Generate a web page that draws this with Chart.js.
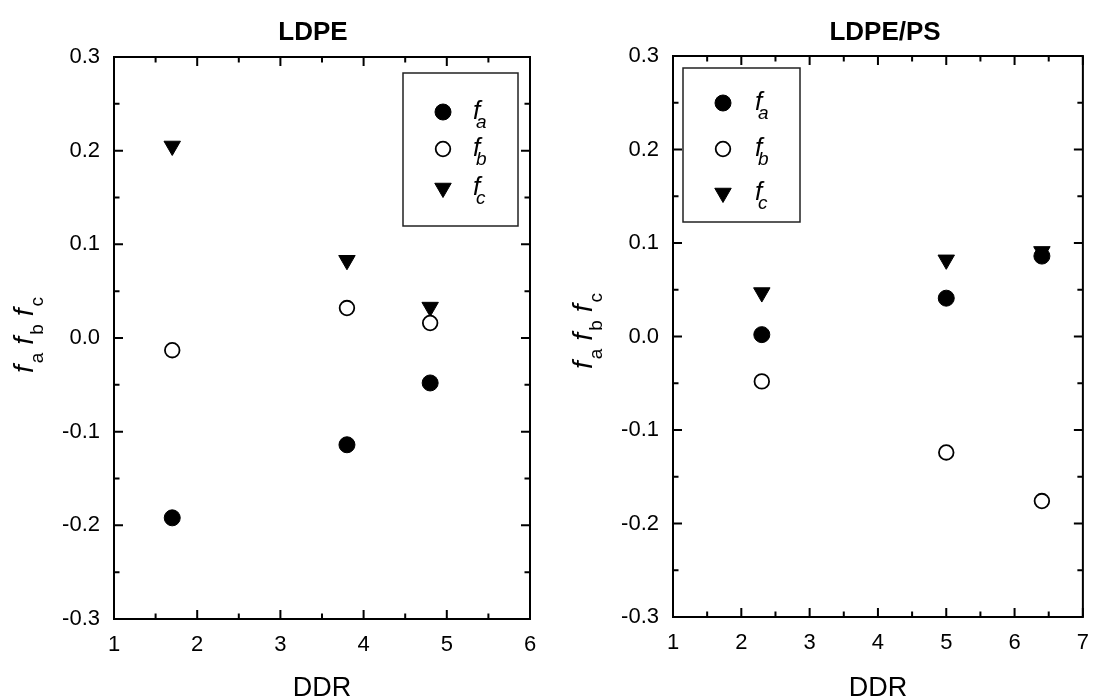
<!DOCTYPE html>
<html><head><meta charset="utf-8">
<script src="https://cdn.jsdelivr.net/npm/chart.js@4/dist/chart.umd.min.js"></script>
<style>
html,body{margin:0;padding:0;background:#fff;}
#wrap{position:relative;width:1102px;height:699px;overflow:hidden;}
canvas{position:absolute;top:0;}
</style></head><body>
<div id="wrap">
<canvas id="c1" width="551" height="699" style="left:0px"></canvas>
<canvas id="c2" width="551" height="699" style="left:551px"></canvas>
</div>
<script>
const FONT = "'Liberation Sans', Arial, Helvetica, sans-serif";

// ---- Data: LDPE panel ----
const ldpeTitle = 'LDPE';
const ldpeDDR = [1.7, 3.8, 4.8];
const ldpeFa = [-0.192, -0.114, -0.048];
const ldpeFb = [-0.013, 0.032, 0.016];
const ldpeFc = [0.205, 0.083, 0.033];

// ---- Data: LDPE/PS panel ----
const psTitle = 'LDPE/PS';
const psDDR = [2.3, 5.0, 6.4];
const psFa = [0.002, 0.041, 0.086];
const psFb = [-0.048, -0.124, -0.176];
const psFc = [0.047, 0.082, 0.091];

// ---- Tick labels ----
const ldpeXTicks = [1, 2, 3, 4, 5, 6];
const psXTicks = [1, 2, 3, 4, 5, 6, 7];
const yTicks = [-0.3, -0.2, -0.1, 0.0, 0.1, 0.2, 0.3];
const xAxisTitle = 'DDR';
const seriesSubs = ['a', 'b', 'c'];

function pts(xs, ys){ return xs.map((x,i)=>({x:x, y:ys[i]})); }

const styles = [
  {pointStyle:'circle', radius:8, backgroundColor:'#000', borderColor:'#000', borderWidth:1, rotation:0},
  {pointStyle:'circle', radius:7.3, backgroundColor:'#fff', borderColor:'#000', borderWidth:1.8, rotation:0},
  {pointStyle:'triangle', radius:9.5, backgroundColor:'#000', borderColor:'#000', borderWidth:1, rotation:180}
];

function makeDatasets(xs, a, b, c){
  return [a,b,c].map((ys,i)=>({
    label: 'f' + seriesSubs[i],
    data: pts(xs, ys),
    showLine: false,
    pointStyle: styles[i].pointStyle,
    pointRadius: styles[i].radius,
    pointHoverRadius: styles[i].radius,
    pointRotation: styles[i].rotation,
    pointBackgroundColor: styles[i].backgroundColor,
    pointBorderColor: styles[i].borderColor,
    pointBorderWidth: styles[i].borderWidth
  }));
}

function drawYTitle(ctx, baseX, centerY){
  const fMain = 'italic 28px ' + FONT, fSub = '19px ' + FONT;
  ctx.save();
  ctx.font = fMain; const fw = ctx.measureText('f').width;
  ctx.font = fSub; const sw = seriesSubs.map(s=>ctx.measureText(s).width);
  const gap = 8, subOff = 2;
  let total = 0;
  seriesSubs.forEach((s,i)=>{ total += fw + subOff + sw[i]; if(i<seriesSubs.length-1) total += gap; });
  ctx.translate(baseX, centerY);
  ctx.rotate(-Math.PI/2);
  ctx.fillStyle = '#000';
  ctx.textBaseline = 'alphabetic';
  ctx.textAlign = 'left';
  let x = -total/2;
  seriesSubs.forEach((s,i)=>{
    ctx.font = fMain; ctx.fillText('f', x, 0);
    x += fw + subOff;
    ctx.font = fSub; ctx.fillText(s, x, 10);
    x += sw[i] + gap;
  });
  ctx.restore();
}

function drawLegend(ctx, box, mx, my, tx){
  ctx.save();
  ctx.fillStyle = '#fff';
  ctx.fillRect(box[0], box[1], box[2], box[3]);
  ctx.strokeStyle = '#222';
  ctx.lineWidth = 1.5;
  ctx.strokeRect(box[0], box[1], box[2], box[3]);
  for(let i=0;i<3;i++){
    const st = styles[i];
    ctx.fillStyle = st.backgroundColor;
    ctx.strokeStyle = st.borderColor;
    ctx.lineWidth = st.borderWidth;
    Chart.helpers.drawPoint(ctx, {pointStyle: st.pointStyle, radius: st.radius, rotation: st.rotation, borderWidth: st.borderWidth}, mx, my[i]);
    ctx.fillStyle = '#000';
    ctx.textAlign = 'left';
    ctx.textBaseline = 'alphabetic';
    ctx.font = 'italic 26px ' + FONT;
    ctx.fillText('f', tx, my[i] + 7);
    ctx.font = 'italic 19px ' + FONT;
    ctx.fillText(seriesSubs[i], tx + 3, my[i] + 16);
  }
  ctx.restore();
}

function framePlugin(cfg){
  return {
    id: 'frame_' + cfg.key,
    beforeDatasetsDraw(chart){
      const ctx = chart.ctx, a = chart.chartArea;
      const xs = chart.scales.x, ys = chart.scales.y;
      ctx.save();
      ctx.strokeStyle = '#000';
      ctx.lineWidth = 2;
      ctx.lineCap = 'butt';
      const xt = cfg.xTicks, yt = yTicks;
      const MAJ = 9, MIN = 5.5;
      const xmin = [], ymin = [];
      for(let i=0;i<xt.length-1;i++) xmin.push((xt[i]+xt[i+1])/2);
      for(let i=0;i<yt.length-1;i++) ymin.push((yt[i]+yt[i+1])/2);
      ctx.beginPath();
      xt.forEach(v=>{ const p = xs.getPixelForValue(v);
        ctx.moveTo(p, a.bottom); ctx.lineTo(p, a.bottom - MAJ);
        ctx.moveTo(p, a.top); ctx.lineTo(p, a.top + MAJ); });
      xmin.forEach(v=>{ const p = xs.getPixelForValue(v);
        ctx.moveTo(p, a.bottom); ctx.lineTo(p, a.bottom - MIN);
        ctx.moveTo(p, a.top); ctx.lineTo(p, a.top + MIN); });
      yt.forEach(v=>{ const p = ys.getPixelForValue(v);
        ctx.moveTo(a.left, p); ctx.lineTo(a.left + MAJ, p);
        ctx.moveTo(a.right, p); ctx.lineTo(a.right - MAJ, p); });
      ymin.forEach(v=>{ const p = ys.getPixelForValue(v);
        ctx.moveTo(a.left, p); ctx.lineTo(a.left + MIN, p);
        ctx.moveTo(a.right, p); ctx.lineTo(a.right - MIN, p); });
      ctx.stroke();
      ctx.strokeRect(a.left, a.top, a.right - a.left, a.bottom - a.top);
      ctx.restore();
    },
    afterDraw(chart){
      const ctx = chart.ctx, a = chart.chartArea;
      ctx.save();
      ctx.fillStyle = '#000';
      ctx.textAlign = 'center';
      ctx.textBaseline = 'alphabetic';
      ctx.font = 'bold 26px ' + FONT;
      ctx.fillText(cfg.title, cfg.titleX, 40);
      ctx.font = '27px ' + FONT;
      ctx.fillText(xAxisTitle, (a.left + a.right)/2, 696);
      ctx.restore();
      drawYTitle(ctx, a.left - 81, cfg.yTitleCY);
      drawLegend(ctx, cfg.legendBox, cfg.legendMX, cfg.legendMY, cfg.legendTX);
    }
  };
}

function makeChart(id, cfg, datasets){
  return new Chart(document.getElementById(id), {
    type: 'scatter',
    data: { datasets: datasets },
    options: {
      responsive: false,
      animation: false,
      devicePixelRatio: 1,
      layout: { padding: { left: 0, top: cfg.top, right: cfg.padRight, bottom: 0 } },
      plugins: { legend: {display:false}, title: {display:false}, tooltip: {enabled:false} },
      events: [],
      scales: {
        x: {
          type: 'linear', min: cfg.xTicks[0], max: cfg.xTicks[cfg.xTicks.length-1],
          afterBuildTicks: s => { s.ticks = cfg.xTicks.map(v=>({value:v})); },
          afterFit: s => { s.height = cfg.xAxisH; },
          grid: { display: false, drawTicks: false },
          border: { display: false },
          ticks: { padding: 13, color: '#000', font: { family: FONT, size: 22 }, maxRotation: 0,
                   callback: v => String(v) }
        },
        y: {
          type: 'linear', min: -0.3, max: 0.3,
          afterBuildTicks: s => { s.ticks = yTicks.map(v=>({value:v})); },
          afterFit: s => { s.width = cfg.yAxisW; },
          grid: { display: false, drawTicks: false },
          border: { display: false },
          ticks: { padding: 14, color: '#000', font: { family: FONT, size: 22 },
                   callback: v => Number(v).toFixed(1) }
        }
      }
    },
    plugins: [framePlugin(cfg)]
  });
}

makeChart('c1', {
  key: 'ldpe', title: ldpeTitle, titleX: 313, xTicks: ldpeXTicks,
  top: 57, padRight: 21, xAxisH: 80, yAxisW: 114, yTitleCY: 335,
  legendBox: [403, 73, 115, 153], legendMX: 443, legendMY: [112, 149, 188], legendTX: 473
}, makeDatasets(ldpeDDR, ldpeFa, ldpeFb, ldpeFc));

makeChart('c2', {
  key: 'ps', title: psTitle, titleX: 885 - 551, xTicks: psXTicks,
  top: 56, padRight: 5, xAxisH: 82, yAxisW: 122, yTitleCY: 331,
  legendBox: [683 - 551, 68, 117, 154], legendMX: 723 - 551, legendMY: [103, 149, 193], legendTX: 755 - 551
}, makeDatasets(psDDR, psFa, psFb, psFc));
</script>
</body></html>
